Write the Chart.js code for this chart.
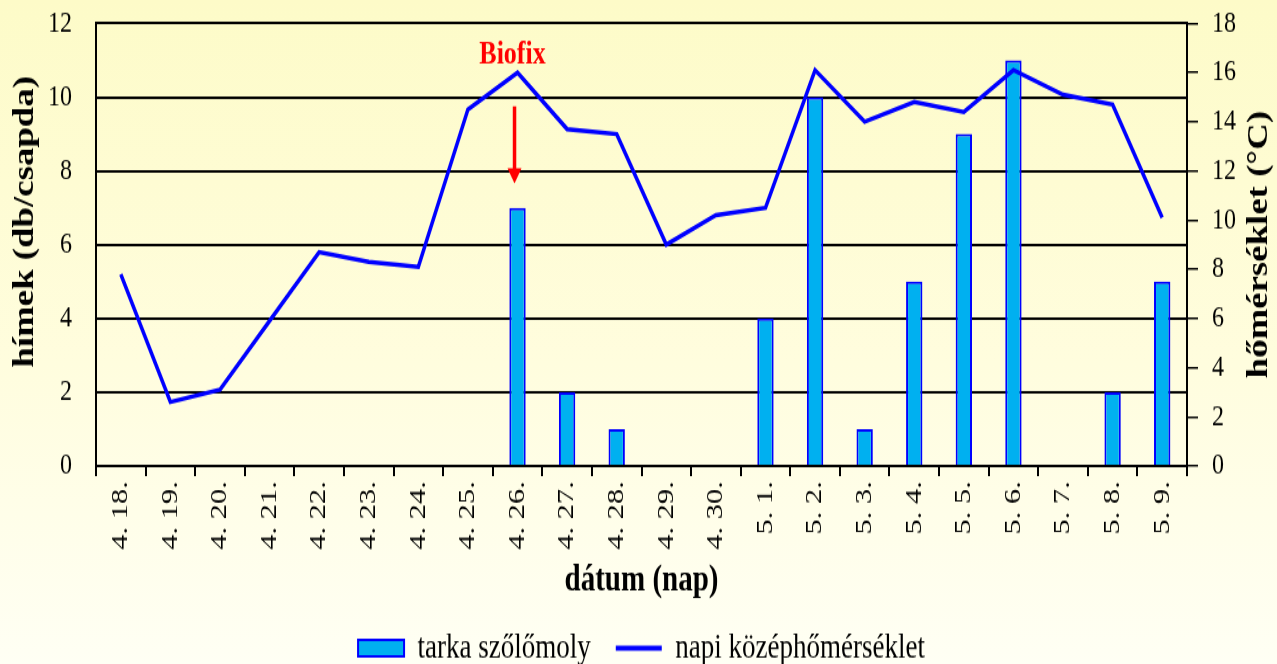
<!DOCTYPE html>
<html lang="hu">
<head>
<meta charset="utf-8">
<title>tarka szőlőmoly és napi középhőmérséklet</title>
<script src="https://cdn.jsdelivr.net/npm/chart.js@4.4.1/dist/chart.umd.min.js"></script>
<style>
  html, body { margin: 0; padding: 0; }
  body {
    width: 1277px;
    height: 664px;
    overflow: hidden;
    background: linear-gradient(to bottom, #fdfbc8 0%, #fffdde 55%, #fffff4 100%);
  }
</style>
</head>
<body>
<!-- drawn at 523px high and stretched to 664px, like the original picture -->
<canvas id="chart" width="1277" height="523" style="display:block;width:1277px;height:664px"></canvas>
<script>
/* global Chart */

// ─── Data ────────────────────────────────────────────────────────────────────

const dates = [
  "4. 18.", "4. 19.", "4. 20.", "4. 21.", "4. 22.", "4. 23.", "4. 24.", "4. 25.",
  "4. 26.", "4. 27.", "4. 28.", "4. 29.", "4. 30.", "5. 1.", "5. 2.", "5. 3.",
  "5. 4.", "5. 5.", "5. 6.", "5. 7.", "5. 8.", "5. 9.",
];

// hímek (db/csapda)
const moths = [0, 0, 0, 0, 0, 0, 0, 0, 7, 2, 1, 0, 0, 4, 10, 1, 5, 9, 11, 0, 2, 5];

// napi középhőmérséklet (°C)
const temps = [
  7.8, 2.6, 3.1, 5.9, 8.7, 8.3, 8.1, 14.5, 16.0, 13.7, 13.5,
  9.0, 10.2, 10.5, 16.1, 14.0, 14.8, 14.4, 16.1, 15.1, 14.7, 10.1,
];

const leftTicks = [0, 2, 4, 6, 8, 10, 12];
const rightTicks = [0, 2, 4, 6, 8, 10, 12, 14, 16, 18];

const seriesNames = ["tarka szőlőmoly", "napi középhőmérséklet"];
const leftTitle = "hímek (db/csapda)";
const rightTitle = "hőmérséklet (°C)";
const xTitle = "dátum (nap)";

// Biofix marker: date, label height, arrow start / tip (left axis units)
const biofixDate = "4. 26.";
const biofixLabelAt = 11.16;
const biofixArrow = [9.75, 7.66];

// ─── Style ───────────────────────────────────────────────────────────────────

const SERIF = "'Liberation Serif', 'Times New Roman', serif";
const BAR_FILL = "#00b0f0";
const BLUE = "#0000ff";
const RED = "#ff0000";
const TITLE_SIZE = 29;

// ─── Plugins ─────────────────────────────────────────────────────────────────

// Both y titles read bottom-to-top; Chart.js turns the right one the other way,
// so the axis titles only reserve space and are painted here.
const axisTitles = {
  id: "axisTitles",
  afterDraw(chart) {
    const { ctx, chartArea } = chart;
    const midY = (chartArea.top + chartArea.bottom) / 2;
    ctx.save();
    ctx.fillStyle = "#000";
    ctx.font = `bold ${TITLE_SIZE}px ${SERIF}`;
    ctx.textAlign = "center";
    ctx.textBaseline = "middle";

    const drawUp = (text, x, y) => {
      ctx.save();
      ctx.translate(x, y);
      ctx.rotate(-Math.PI / 2);
      ctx.fillText(text, 0, 0);
      ctx.restore();
    };
    drawUp(leftTitle, chartArea.left - 70, midY - 18);
    drawUp(rightTitle, chartArea.right + 73, midY);
    ctx.restore();
  },
};

const biofix = {
  id: "biofix",
  afterDatasetsDraw(chart) {
    const { ctx, scales: { x, y } } = chart;
    const px = x.getPixelForValue(dates.indexOf(biofixDate)) - 3;
    const yStart = y.getPixelForValue(biofixArrow[0]);
    const yTip = y.getPixelForValue(biofixArrow[1]);
    const headH = 12;

    ctx.save();
    ctx.fillStyle = RED;
    ctx.strokeStyle = RED;
    ctx.font = `bold 26px ${SERIF}`;
    ctx.textAlign = "center";
    ctx.textBaseline = "middle";
    ctx.fillText("Biofix", px - 2, y.getPixelForValue(biofixLabelAt));

    ctx.lineWidth = 3.5;
    ctx.beginPath();
    ctx.moveTo(px, yStart);
    ctx.lineTo(px, yTip - headH + 1);
    ctx.stroke();

    ctx.beginPath();
    ctx.moveTo(px - 7, yTip - headH);
    ctx.lineTo(px + 7, yTip - headH);
    ctx.lineTo(px, yTip);
    ctx.closePath();
    ctx.fill();
    ctx.restore();
  },
};

// ─── Chart ───────────────────────────────────────────────────────────────────

Chart.defaults.font.family = SERIF;
Chart.defaults.color = "#000";

const hiddenTitle = (text) => ({
  display: true,
  text,
  color: "rgba(0,0,0,0)",
  font: { family: SERIF, size: TITLE_SIZE, weight: "bold", lineHeight: 1 },
  padding: 0,
});

new Chart(document.getElementById("chart"), {
  type: "bar",
  data: {
    labels: dates,
    datasets: [
      {
        type: "bar",
        label: seriesNames[0],
        data: moths,
        yAxisID: "y",
        order: 2,
        backgroundColor: BAR_FILL,
        borderColor: BLUE,
        borderWidth: (c) => (c.raw ? 2 : 0),
        borderSkipped: "bottom",
        categoryPercentage: 1,
        barPercentage: 0.33,
      },
      {
        type: "line",
        label: seriesNames[1],
        data: temps,
        yAxisID: "y1",
        order: 1,
        borderColor: BLUE,
        backgroundColor: BLUE,
        borderWidth: 3.5,
        pointRadius: 0,
        tension: 0,
        fill: false,
      },
    ],
  },
  options: {
    responsive: false,
    devicePixelRatio: 1,
    animation: false,
    layout: { padding: { top: 2, left: 15, right: 9, bottom: -11 } },
    plugins: {
      tooltip: { enabled: false },
      legend: {
        position: "bottom",
        labels: {
          usePointStyle: true,
          pointStyleWidth: 46,
          boxHeight: 13,
          padding: 25,
          color: "#000",
          font: { family: SERIF, size: 27 },
          sort: (a, b) => a.datasetIndex - b.datasetIndex,
          generateLabels(chart) {
            const items = Chart.defaults.plugins.legend.labels.generateLabels(chart);
            items.forEach((it) => {
              if (it.datasetIndex === 1) {
                it.pointStyle = "line";
                it.strokeStyle = BLUE;
                it.lineWidth = 4;
              } else {
                it.pointStyle = "rect";
                it.fillStyle = BAR_FILL;
                it.strokeStyle = BLUE;
                it.lineWidth = 2;
              }
            });
            return items;
          },
        },
      },
    },
    scales: {
      x: {
        offset: true,
        grid: {
          offset: true,
          drawOnChartArea: false,
          tickLength: 8,
          color: "#000",
          lineWidth: 2,
        },
        border: { color: "#000", width: 2 },
        ticks: {
          autoSkip: false,
          minRotation: 90,
          maxRotation: 90,
          padding: 4,
          color: "#000",
          font: { family: SERIF, size: 24 },
        },
        title: {
          display: true,
          text: xTitle,
          color: "#000",
          font: { family: SERIF, size: TITLE_SIZE, weight: "bold", lineHeight: 1 },
          padding: { top: 6, bottom: 0 },
        },
      },
      y: {
        position: "left",
        min: leftTicks[0],
        max: leftTicks[leftTicks.length - 1],
        afterBuildTicks: (scale) => { scale.ticks = leftTicks.map((v) => ({ value: v })); },
        // no tick marks on this side: the invisible tick is only the label gap
        grid: { color: "#000", lineWidth: 2, tickLength: 20, tickColor: "rgba(0,0,0,0)" },
        border: { color: "#000", width: 2 },
        ticks: { padding: 4, color: "#000", font: { family: SERIF, size: 24 } },
        title: hiddenTitle(leftTitle),
      },
      y1: {
        position: "right",
        min: rightTicks[0],
        max: rightTicks[rightTicks.length - 1],
        afterBuildTicks: (scale) => { scale.ticks = rightTicks.map((v) => ({ value: v })); },
        // 10px visible tick mark, the rest of the tick length is label gap
        grid: {
          drawOnChartArea: false,
          tickLength: 22,
          tickBorderDash: [10, 40],
          color: "#000",
          lineWidth: 1.5,
        },
        border: { color: "#000", width: 2 },
        ticks: { padding: 3, color: "#000", font: { family: SERIF, size: 24, lineHeight: 0.6 } },
        title: hiddenTitle(rightTitle),
      },
    },
  },
  plugins: [biofix, axisTitles],
});
</script>
</body>
</html>
